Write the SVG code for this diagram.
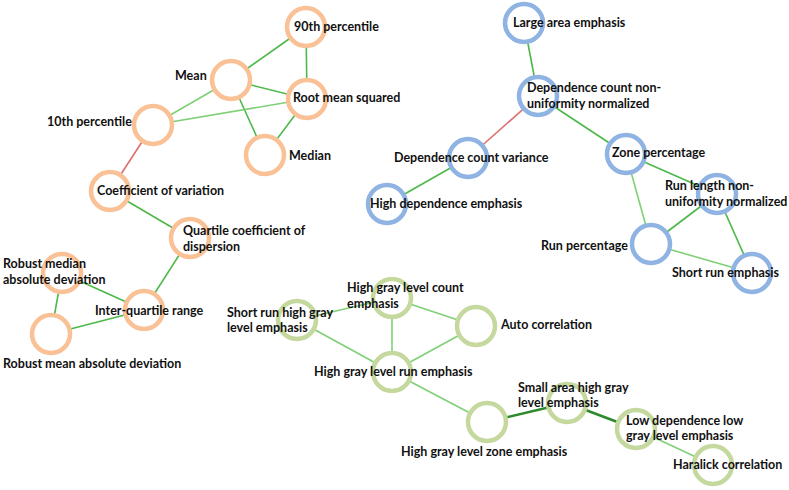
<svg xmlns="http://www.w3.org/2000/svg" width="789" height="490" viewBox="0 0 789 490">
<style>
  text { font-family: Lato, "Liberation Sans", sans-serif; font-weight: bold; font-size: 12.5px; fill: #111; }
  circle { fill: #fff; stroke-width: 4.5; }
  .o { stroke: #F9C195; }
  .b { stroke: #8FB3E2; }
  .g { stroke: #C5D89E; }
  #edges line { stroke-width: 1.6; }
  .e1 { stroke: #4DB84A; }
  .e2 { stroke: #7FD077; }
  .e3 { stroke: #2C8A2C; stroke-width: 2.6 !important; }
  .er { stroke: #DC6E6E; }
</style>
<rect width="789" height="490" fill="#fff"/>
<g id="edges">
  <line class="e1" x1="231" y1="80" x2="306" y2="27"/>
  <line class="e1" x1="306" y1="27" x2="307" y2="99"/>
  <line class="e1" x1="231" y1="80" x2="307" y2="99"/>
  <line class="e1" x1="231" y1="80" x2="265" y2="155"/>
  <line class="e1" x1="307" y1="99" x2="265" y2="155"/>
  <line class="e2" x1="231" y1="80" x2="153" y2="125"/>
  <line class="e2" x1="153" y1="125" x2="307" y2="99"/>
  <line class="er" x1="153" y1="125" x2="110" y2="191"/>
  <line class="e1" x1="110" y1="191" x2="190" y2="238"/>
  <line class="e1" x1="190" y1="238" x2="144" y2="310"/>
  <line class="e1" x1="62" y1="273" x2="144" y2="310"/>
  <line class="e1" x1="62" y1="273" x2="51" y2="334"/>
  <line class="e1" x1="51" y1="334" x2="144" y2="310"/>

  <line class="e1" x1="524" y1="23" x2="538" y2="96"/>
  <line class="er" x1="538" y1="96" x2="468" y2="158"/>
  <line class="e1" x1="538" y1="96" x2="626" y2="154"/>
  <line class="e1" x1="468" y1="158" x2="387" y2="204"/>
  <line class="e1" x1="626" y1="154" x2="717" y2="194"/>
  <line class="e2" x1="626" y1="154" x2="651" y2="244"/>
  <line class="e1" x1="717" y1="194" x2="651" y2="244"/>
  <line class="e1" x1="717" y1="194" x2="752" y2="273"/>
  <line class="e2" x1="651" y1="244" x2="752" y2="273"/>

  <line class="e2" x1="297" y1="320" x2="392" y2="298"/>
  <line class="e2" x1="297" y1="320" x2="392" y2="372"/>
  <line class="e2" x1="392" y1="298" x2="392" y2="372"/>
  <line class="e2" x1="392" y1="298" x2="476" y2="326"/>
  <line class="e2" x1="476" y1="326" x2="392" y2="372"/>
  <line class="e2" x1="392" y1="372" x2="487" y2="422"/>
  <line class="e3" x1="487" y1="422" x2="567" y2="403"/>
  <line class="e3" x1="567" y1="403" x2="636" y2="429"/>
  <line class="e2" x1="636" y1="429" x2="713" y2="465"/>
</g>

<g id="n90"><circle class="o" cx="306" cy="27" r="19"/><text x="294" y="31">90th percentile</text></g>
<g id="nMean"><circle class="o" cx="231" cy="80" r="19"/><text x="175" y="80">Mean</text></g>
<g id="nRMS"><circle class="o" cx="307" cy="99" r="19"/><text x="293" y="102">Root mean squared</text></g>
<g id="n10"><circle class="o" cx="153" cy="125" r="19"/><text x="47" y="126">10th percentile</text></g>
<g id="nMedian"><circle class="o" cx="265" cy="155" r="19"/><text x="289" y="160">Median</text></g>
<g id="nCoV"><circle class="o" cx="110" cy="191" r="19"/><text x="97" y="195">Coefficient of variation</text></g>
<g id="nQCD"><circle class="o" cx="190" cy="238" r="19"/><text x="183" y="235">Quartile coefficient of</text><text x="183" y="251">dispersion</text></g>
<g id="nRMedAD"><circle class="o" cx="62" cy="273" r="19"/><text x="3" y="268">Robust median</text><text x="3" y="284">absolute deviation</text></g>
<g id="nIQR"><circle class="o" cx="144" cy="310" r="19"/><text x="95" y="315">Inter-quartile range</text></g>
<g id="nRMeanAD"><circle class="o" cx="51" cy="334" r="19"/><text x="3" y="368">Robust mean absolute deviation</text></g>

<g id="nLAE"><circle class="b" cx="524" cy="23" r="19"/><text x="513" y="27">Large area emphasis</text></g>
<g id="nDCNN"><circle class="b" cx="538" cy="96" r="19"/><text x="527" y="92">Dependence count non-</text><text x="527" y="108">uniformity normalized</text></g>
<g id="nDCV"><circle class="b" cx="468" cy="158" r="19"/><text x="394" y="162">Dependence count variance</text></g>
<g id="nHDE"><circle class="b" cx="387" cy="204" r="19"/><text x="370" y="208">High dependence emphasis</text></g>
<g id="nZP"><circle class="b" cx="626" cy="154" r="19"/><text x="612" y="157">Zone percentage</text></g>
<g id="nRLNN"><circle class="b" cx="717" cy="194" r="19"/><text x="665" y="190">Run length non-</text><text x="665" y="206">uniformity normalized</text></g>
<g id="nRP"><circle class="b" cx="651" cy="244" r="19"/><text x="541" y="250">Run percentage</text></g>
<g id="nSRE"><circle class="b" cx="752" cy="273" r="19"/><text x="672" y="277">Short run emphasis</text></g>

<g id="nSRHGLE"><circle class="g" cx="297" cy="320" r="19"/><text x="227" y="317">Short run high gray</text><text x="227" y="332">level emphasis</text></g>
<g id="nHGLCE"><circle class="g" cx="392" cy="298" r="19"/><text x="347" y="292">High gray level count</text><text x="347" y="308">emphasis</text></g>
<g id="nAC"><circle class="g" cx="476" cy="326" r="19"/><text x="501" y="329">Auto correlation</text></g>
<g id="nHGLRE"><circle class="g" cx="392" cy="372" r="19"/><text x="314" y="376">High gray level run emphasis</text></g>
<g id="nHGLZE"><circle class="g" cx="487" cy="422" r="19"/><text x="401" y="456">High gray level zone emphasis</text></g>
<g id="nSAHGLE"><circle class="g" cx="567" cy="403" r="19"/><text x="518" y="392">Small area high gray</text><text x="518" y="407">level emphasis</text></g>
<g id="nLDLGLE"><circle class="g" cx="636" cy="429" r="19"/><text x="626" y="425">Low dependence low</text><text x="626" y="440">gray level emphasis</text></g>
<g id="nHC"><circle class="g" cx="713" cy="465" r="19"/><text x="673" y="469">Haralick correlation</text></g>
</svg>
